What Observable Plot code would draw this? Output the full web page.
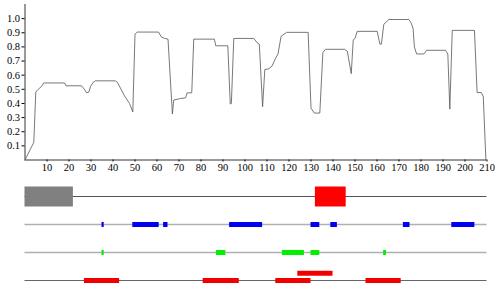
<!DOCTYPE html>
<html>
<head>
<meta charset="utf-8">
<script src="https://cdn.jsdelivr.net/npm/d3@7"></script>
<script src="https://cdn.jsdelivr.net/npm/@observablehq/plot@0.6"></script>
<style>
  html, body { margin: 0; padding: 0; background: white; }
  #chart svg { display: block; }
</style>
</head>
<body>
<div id="chart"></div>
<script>
// ---- profile line ----
const profileX = [0, 4, 4.9, 6, 7.5, 8.5, 18, 18.6, 25.7, 27, 28, 29, 29.8, 31, 32, 41, 42, 45, 47.5, 49,
  50, 51, 60.7, 62, 63.5, 65, 67, 67.6, 70.7, 73, 73.7, 75.8, 76.7, 86.1, 86.7, 92.2, 93.3, 93.8, 94.9,
  104, 105.5, 106.5, 108, 109, 110.8, 112.3, 113.9, 115, 116.4, 118.9, 128.7, 130, 131.5, 134, 135.4,
  136.6, 145.2, 146.5, 148.3, 149.2, 150, 151, 160.1, 161.3, 162, 163.1, 165.4, 174.5, 175.5, 176.4,
  177, 178, 181.3, 182.5, 191.1, 192.2, 193.1, 194.2, 204.3, 205.5, 207.4, 208.3, 209.5];
const profileY = [0, 0.125, 0.48, 0.50, 0.52, 0.545, 0.545, 0.525, 0.525, 0.50, 0.475, 0.48, 0.52, 0.55, 0.56, 0.56, 0.55, 0.46, 0.40, 0.34,
  0.89, 0.905, 0.905, 0.87, 0.86, 0.855, 0.325, 0.424, 0.435, 0.44, 0.475, 0.475, 0.855, 0.855, 0.808, 0.808, 0.396, 0.40, 0.86,
  0.86, 0.83, 0.82, 0.377, 0.64, 0.645, 0.665, 0.72, 0.75, 0.875, 0.903, 0.903, 0.367, 0.332, 0.332, 0.76,
  0.783, 0.783, 0.77, 0.611, 0.85, 0.86, 0.91, 0.91, 0.82, 0.82, 0.96, 0.994, 0.994, 0.97, 0.93,
  0.80, 0.75, 0.75, 0.776, 0.776, 0.75, 0.36, 0.917, 0.917, 0.477, 0.477, 0.45, 0];
const xTicks = d3.range(10, 211, 10);
const yTicks = [0.1, 0.2, 0.3, 0.4, 0.5, 0.6, 0.7, 0.8, 0.9, 1.0];

// ---- feature tracks ----
const tracks = ["domains", "helix", "strand", "disorder"];
const domainStart = [0, 132];
const domainEnd = [22, 146];
const domainKind = ["a", "b"];
const helixStart = [35, 49, 63, 93, 130, 139, 172, 194];
const helixEnd = [36, 61, 65, 108, 134, 142, 175, 204.5];
const strandStart = [35, 87, 117, 130, 163];
const strandEnd = [36, 91.3, 127, 134, 164.3];
const disorderStart = [27, 81, 114, 155];
const disorderEnd = [43, 97.4, 130, 171];
const disorder2Start = [124];
const disorder2End = [140];

const profile = profileX.map((x, i) => ({x, y: profileY[i]}));
const feat = (track, s, e, extra = {}) => s.map((v, i) => ({track, start: v, end: e[i], kind: extra.kind ? extra.kind[i] : null}));

const font = {fontFamily: "'Liberation Serif', 'DejaVu Serif', serif", fontSize: "10.5px", background: "white", color: "black", overflow: "visible"};

const chartTop = Plot.plot({
  width: 501, height: 178,
  marginTop: 4, marginBottom: 18.5, marginLeft: 24.5, marginRight: 14.5,
  style: font,
  x: {domain: [0, 210]},
  y: {domain: [0, 1.1]},
  marks: [
    Plot.axisY(yTicks, {tickSize: 3, tickPadding: 2, tickFormat: d3.format(".1f"), label: null}),
    Plot.axisX(xTicks, {tickSize: 2, tickPadding: 2, label: null}),
    Plot.ruleX([0], {y1: 0, y2: 1.1, stroke: "black", strokeWidth: 0.8}),
    Plot.ruleY([0], {stroke: "black", strokeWidth: 0.8}),
    Plot.line(profile, {x: "x", y: "y", stroke: "#555", strokeWidth: 0.8})
  ]
});

const chartBottom = Plot.plot({
  width: 501, height: 114,
  marginTop: 0, marginBottom: 0, marginLeft: 24.5, marginRight: 14.5,
  style: font,
  x: {domain: [0, 210], axis: null},
  y: {type: "point", domain: tracks, range: [17, 102.3], padding: 0, axis: null},
  color: {domain: ["a", "b"], range: ["#808080", "#ff0000"]},
  marks: [
    Plot.ruleY(["domains"], {x1: 0, x2: 210, stroke: "#555", strokeWidth: 1}),
    Plot.ruleY(["helix", "strand"], {x1: 0, x2: 210, stroke: "#b0b0b0", strokeWidth: 1.6}),
    Plot.ruleY(["disorder"], {x1: 0, x2: 210, stroke: "#666", strokeWidth: 1}),
    Plot.ruleY(feat("domains", domainStart, domainEnd, {kind: domainKind}), {y: "track", x1: "start", x2: "end", stroke: "kind", strokeWidth: 20}),
    Plot.ruleY(feat("helix", helixStart, helixEnd), {y: "track", x1: "start", x2: "end", stroke: "#0000f0", strokeWidth: 5}),
    Plot.ruleY(feat("strand", strandStart, strandEnd), {y: "track", x1: "start", x2: "end", stroke: "#00f000", strokeWidth: 5}),
    Plot.ruleY(feat("disorder", disorderStart, disorderEnd), {y: "track", x1: "start", x2: "end", stroke: "#f00000", strokeWidth: 5}),
    Plot.ruleY(feat("disorder", disorder2Start, disorder2End), {y: "track", x1: "start", x2: "end", stroke: "#f00000", strokeWidth: 5, dy: -7.3})
  ]
});

const el = document.getElementById("chart");
el.append(chartTop, chartBottom);
</script>
</body>
</html>
